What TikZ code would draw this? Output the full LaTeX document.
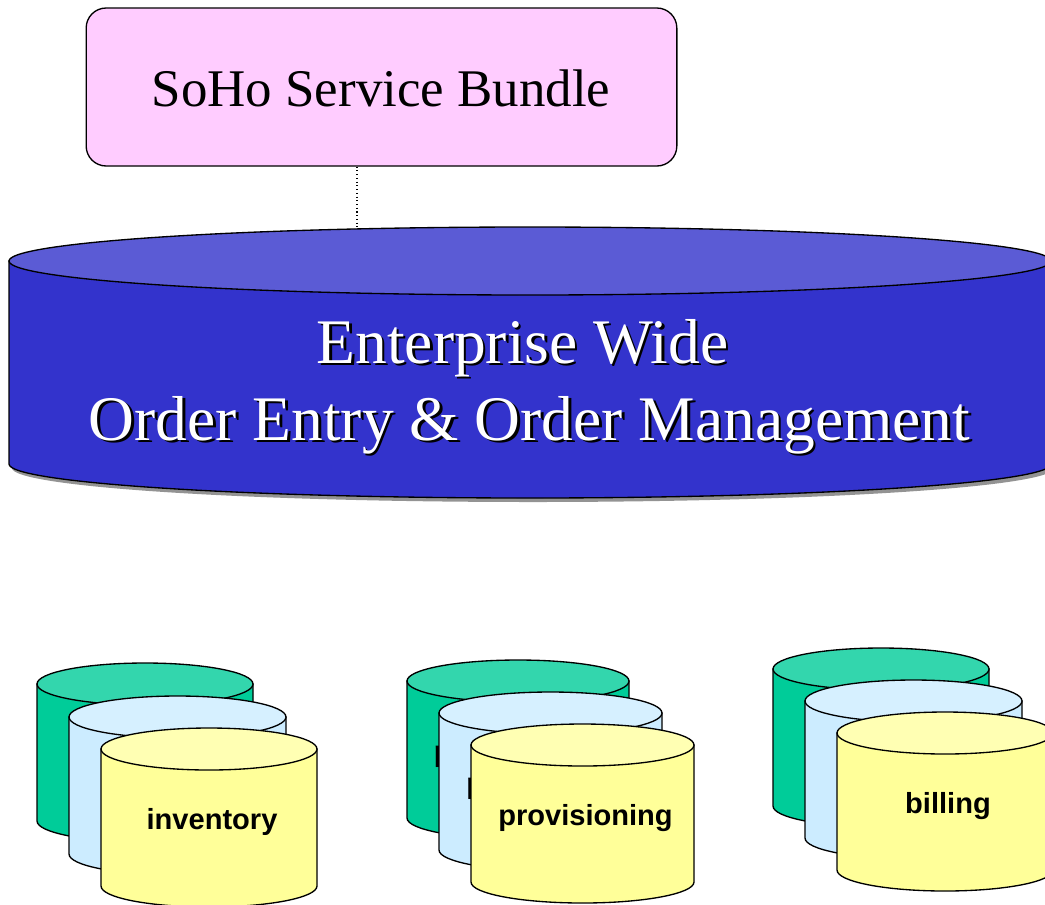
\documentclass[tikz,border=0pt]{standalone}
\usepackage{fontspec}
\setmainfont{Liberation Serif}
\newfontfamily\labelfont{Liberation Sans}
\definecolor{bundlepink}{HTML}{FFCCFF}
\definecolor{oebody}{HTML}{3333CC}
\definecolor{oetop}{HTML}{5B5BD5}
\definecolor{greenside}{HTML}{00CC99}
\definecolor{greentop}{HTML}{33D6AD}
\definecolor{paleside}{HTML}{CCECFF}
\definecolor{paletop}{HTML}{D6F0FF}
\definecolor{yellowside}{HTML}{FFFF99}
\definecolor{yellowtop}{HTML}{FFFFB3}

% a data store drawn as a cylinder:
% #1 centre x, #2 centre y of the top face, #3 x radius, #4 y radius,
% #5 height, #6 side colour, #7 top colour
\newcommand{\drum}[7]{%
  \draw[drumline, fill=#6] (#1-#3,#2) -- (#1-#3,#2+#5)
    arc[start angle=180, end angle=0, x radius=#3, y radius=#4]
    -- (#1+#3,#2) -- cycle;
  \draw[drumline, fill=#7] (#1,#2) ellipse [x radius=#3, y radius=#4];
}
% a cylinder of a store group together with its label
% #1 centre x, #2 top y, #3 x radius, #4 side colour, #5 top colour, #6 node name, #7 label
\newcommand{\store}[7]{%
  \drum{#1}{#2}{#3}{21}{137}{#4}{#5}
  \node[storelabel] (#6) at (#1+3,#2+80) {#7};
}

\begin{document}
\begin{tikzpicture}[x=0.75pt, y=-0.75pt,
  drumline/.style={draw=black, line width=1pt},
  bundlebox/.style={draw=black, line width=1pt, fill=bundlepink,
    rounded corners=15pt, minimum width=443pt, minimum height=118.5pt, inner sep=0pt},
  bundletext/.style={anchor=base, inner sep=0pt, font=\fontsize{39.7}{40}\selectfont},
  oetext/.style={anchor=base, inner sep=0pt, text=white, font=\fontsize{47.6}{48}\selectfont},
  oeshadow/.style={anchor=base, inner sep=0pt, text=black, font=\fontsize{47.6}{48}\selectfont},
  storelabel/.style={anchor=base, inner sep=0pt, font=\labelfont\bfseries\fontsize{21.8}{22}\selectfont},
]
\useasboundingbox (0,0) rectangle (1045,904);

% service bundle box
\node[bundlebox] (soho) at (381.5,87) {};
\node[bundletext] (sohotext) at (381,106) {SoHo Service Bundle};

% enterprise order management store, with its drop shadow
\fill[gray!85] (9+3,261+4) -- (9+3,464+4)
  arc[start angle=180, end angle=0, x radius=521, y radius=34]
  -- (1051+3,261+4) -- cycle;
\drum{530}{261}{521}{34}{203}{oebody}{oetop}
\coordinate (oetopedge) at (357,227.5);

\node[oeshadow] (ent1s) at (525,365.5) {Enterprise Wide};
\node[oetext]   (ent1)  at (522.5,363) {Enterprise Wide};
\node[oeshadow] (ent2s) at (532,442.5) {Order Entry \& Order Management};
\node[oetext]   (ent2)  at (529.5,440) {Order Entry \& Order Management};

% link from the bundle to the order system
\draw[dotted, line width=0.8pt] (soho.south -| oetopedge) -- (oetopedge);

% inventory stores
\store{145}{684}{108}{greenside}{greentop}{invA}{inventory}
\store{177.5}{717}{108.5}{paleside}{paletop}{invB}{inventory}
\store{209}{749}{108}{yellowside}{yellowtop}{invC}{inventory}

% provisioning stores
\store{518}{681}{111}{greenside}{greentop}{provA}{provisioning}
\store{550.5}{713}{111.5}{paleside}{paletop}{provB}{provisioning}
\store{582.5}{745}{111.5}{yellowside}{yellowtop}{provC}{provisioning}

% billing stores
\store{881}{669}{108}{greenside}{greentop}{billA}{billing}
\store{913.5}{701}{108.5}{paleside}{paletop}{billB}{billing}
\store{945}{733}{108}{yellowside}{yellowtop}{billC}{billing}
\end{tikzpicture}
\end{document}
